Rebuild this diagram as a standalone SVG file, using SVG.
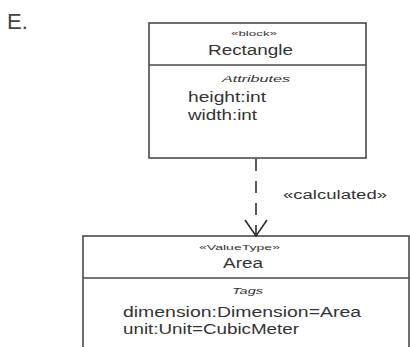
<svg xmlns="http://www.w3.org/2000/svg" width="410" height="347" viewBox="0 0 410 347">
<style>
.box{fill:#fff;stroke:#4a4a4a;stroke-width:1.6}
.div{stroke:#4a4a4a;stroke-width:1.6}
text{font-family:"Liberation Sans",Arial,sans-serif;fill:#333}
.st{font-size:8px}
.nm{font-size:14px}
.it{font-size:9px;font-style:italic}
.at{font-size:14px}
.conn{stroke:#222;stroke-width:1.5;fill:none}
</style>
<rect width="410" height="347" fill="#fff"/>
<text x="7" y="29" style="font-size:22px;fill:#444">E.</text>
<g id="rectangle">
<rect class="box" x="149" y="23" width="217" height="135"/>
<line class="div" x1="149" y1="65" x2="366" y2="65"/>
<text class="st" x="231" y="36" textLength="46" lengthAdjust="spacingAndGlyphs">«block»</text>
<text class="nm" x="208" y="55" textLength="85" lengthAdjust="spacingAndGlyphs">Rectangle</text>
<text class="it" x="222" y="82" textLength="68" lengthAdjust="spacingAndGlyphs">Attributes</text>
<text class="at" x="188" y="102" textLength="78" lengthAdjust="spacingAndGlyphs">height:int</text>
<text class="at" x="188" y="120" textLength="69" lengthAdjust="spacingAndGlyphs">width:int</text>
</g>
<g id="area">
<rect class="box" x="83" y="236" width="326" height="120"/>
<line class="div" x1="83" y1="278" x2="409" y2="278"/>
<text class="st" x="199" y="250" textLength="81" lengthAdjust="spacingAndGlyphs">«ValueType»</text>
<text class="nm" x="223" y="268" textLength="40" lengthAdjust="spacingAndGlyphs">Area</text>
<text class="it" x="232" y="294" textLength="31" lengthAdjust="spacingAndGlyphs">Tags</text>
<text class="at" x="123" y="317" textLength="238" lengthAdjust="spacingAndGlyphs">dimension:Dimension=Area</text>
<text class="at" x="123" y="334" textLength="176" lengthAdjust="spacingAndGlyphs">unit:Unit=CubicMeter</text>
</g>
<g id="connectors">
<line class="conn" x1="256" y1="159" x2="256" y2="235" stroke-dasharray="12 10"/>
<polyline class="conn" points="245,220 256,236 267,220"/>
<text x="283" y="199" style="font-size:12px" textLength="104" lengthAdjust="spacingAndGlyphs">«calculated»</text>
</g>
</svg>
